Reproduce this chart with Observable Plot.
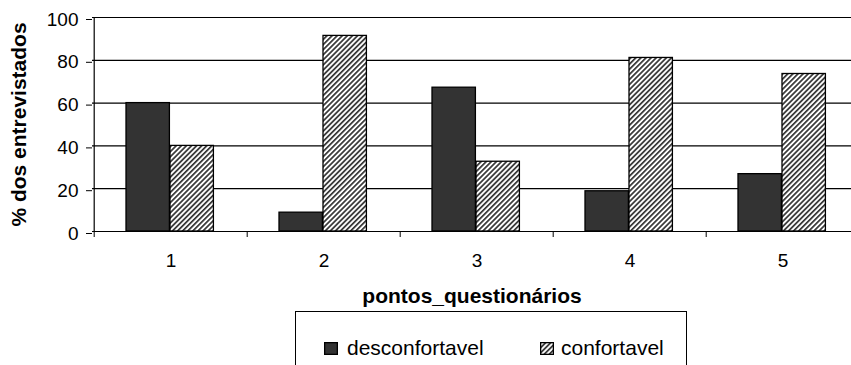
<!DOCTYPE html>
<html>
<head>
<meta charset="utf-8">
<script src="https://cdn.jsdelivr.net/npm/d3@7"></script>
<script src="https://cdn.jsdelivr.net/npm/@observablehq/plot@0.6"></script>
<style>
  html, body { margin: 0; padding: 0; background: #fff; }
  #wrap { position: relative; width: 851px; height: 365px; overflow: hidden; background: #fff; font-family: "Liberation Sans", Arial, sans-serif; }
  #legend { position: absolute; left: 295px; top: 311px; width: 392px; height: 80px; border: 1.5px solid #000; box-sizing: border-box; background: #fff; }
  .item { position: absolute; top: 24px; display: flex; align-items: center; font-size: 21px; color: #000; }
</style>
</head>
<body>
<div id="wrap">
  <div id="chart"></div>
  <div id="legend"></div>
</div>
<script>
const categories = ["1", "2", "3", "4", "5"];
const series = ["desconfortavel", "confortavel"];
const desconfortavel = [60, 8.8, 67.2, 18.8, 26.8];
const confortavel = [40, 91.4, 32.6, 81.1, 73.6];
const yTicks = [0, 20, 40, 60, 80, 100];
const xTitle = "pontos_questionários";
const yTitle = "% dos entrevistados";

const data = [];
categories.forEach((c, i) => {
  data.push({cat: c, series: series[0], value: desconfortavel[i]});
  data.push({cat: c, series: series[1], value: confortavel[i]});
});

const step = (860 - 92) / categories.length;

const svg = Plot.plot({
  width: 851,
  height: 311,
  marginTop: 17,
  marginBottom: 80,
  marginLeft: 92,
  marginRight: 0,
  style: {fontFamily: '"Liberation Sans", Arial, sans-serif', background: "white", color: "#000"},
  x: {domain: categories, range: [92, 860], padding: 0, label: null},
  y: {domain: [0, 100], label: null},
  color: {domain: series, range: ["#333333", "url(#hatch)"]},
  marks: [
    Plot.ruleY(yTicks, {stroke: "#000", strokeWidth: 1.2}),
    Plot.barY(data.filter(d => d.series === series[0]), {x: "cat", y: "value", fill: "series", stroke: "#000", strokeWidth: 1.3, insetLeft: 32, insetRight: step - 32 - 44}),
    Plot.barY(data.filter(d => d.series === series[1]), {x: "cat", y: "value", fill: "series", stroke: "#000", strokeWidth: 1.3, insetLeft: 76, insetRight: step - 76 - 44}),
    Plot.ruleX([categories[0]], {x: d => d, dx: -step / 2, y1: 0, y2: 100, stroke: "#000", strokeWidth: 1.2}),
    Plot.axisY({ticks: yTicks, tickSize: 6, tickPadding: 8, fontSize: 19, dy: 2, label: yTitle, labelAnchor: "center", labelArrow: "none", labelOffset: 81}),
    Plot.axisX({tickSize: 0, tickPadding: 22, fontSize: 19, label: xTitle, labelAnchor: "center", labelArrow: "none", labelOffset: 71}),
    Plot.axisX({tickSize: 6, text: null, label: null, dx: -step / 2})
  ]
});

const root = d3.select(svg);
const defs = root.insert("defs", ":first-child");
const pat = defs.append("pattern").attr("id", "hatch").attr("patternUnits", "userSpaceOnUse")
  .attr("width", 3.6).attr("height", 10).attr("patternTransform", "rotate(45)");
pat.append("rect").attr("width", 3.6).attr("height", 10).attr("fill", "#fff");
pat.append("rect").attr("width", 1.7).attr("height", 10).attr("fill", "#333");

root.selectAll('g[aria-label="y-axis label"], g[aria-label="x-axis label"]')
  .attr("font-weight", "bold").attr("font-size", 21);

document.getElementById("chart").appendChild(svg);

const legend = d3.select("#legend");
const lpos = [28, 244];
const gaps = [9, 7];
series.forEach((s, i) => {
  const it = legend.append("div").attr("class", "item").style("left", lpos[i] + "px");
  const sw = it.append("svg").attr("width", 14).attr("height", 13).style("margin-right", gaps[i] + "px");
  sw.append("rect").attr("x", 0.65).attr("y", 0.65).attr("width", 12.7).attr("height", 11.7)
    .attr("fill", i === 0 ? "#333333" : "url(#hatch)").attr("stroke", "#000").attr("stroke-width", 1.3);
  it.append("span").text(s);
});
</script>
</body>
</html>
